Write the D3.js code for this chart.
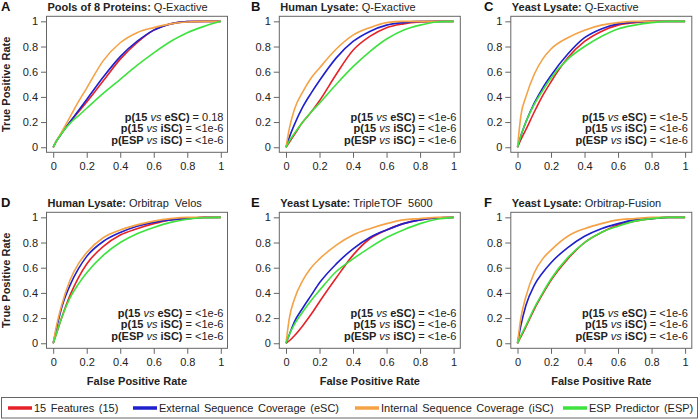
<!DOCTYPE html>
<html>
<head>
<meta charset="utf-8">
<script src="https://cdn.jsdelivr.net/npm/d3@7"></script>
<style>
body { margin: 0; background: #fff; }
svg { font-family: "Liberation Sans", Arial, sans-serif; }
</style>
</head>
<body>
<svg id="chart" width="700" height="420"></svg>
<script>
// false positive rate grid shared by all curves
const fpr = [0, 0.02, 0.05, 0.1, 0.15, 0.2, 0.3, 0.4, 0.5, 0.6, 0.7, 0.8, 0.9, 1];

const letters = ["A", "B", "C", "D", "E", "F"];
const samples = ["Pools of 8 Proteins:", "Human Lysate:", "Yeast Lysate:", "Human Lysate:", "Yeast Lysate:", "Yeast Lysate:"];
const instruments = ["Q-Exactive", "Q-Exactive", "Q-Exactive", "Orbitrap  Velos", "TripleTOF  5600", "Orbitrap-Fusion"];

const p15vsESC = ["0.18", "<1e-6", "<1e-5", "<1e-6", "<1e-6", "<1e-6"];
const p15vsISC = ["<1e-6", "<1e-6", "<1e-6", "<1e-6", "<1e-6", "<1e-6"];
const pESPvsISC = ["<1e-6", "<1e-6", "<1e-6", "<1e-6", "<1e-6", "<1e-6"];

const seriesNames = ["15 Features (15)", "External Sequence Coverage (eSC)", "Internal Sequence Coverage (iSC)", "ESP Predictor (ESP)"];
const seriesColors = ["#e52228", "#1f1fcc", "#f4a245", "#3ee23e"];

const ticks = [0, 0.2, 0.4, 0.6, 0.8, 1];

// true positive rates, one row per panel A-F
const tpr15 = [
  [0, 0.05, 0.11, 0.2, 0.28, 0.36, 0.53, 0.7, 0.83, 0.93, 0.98, 0.998, 1, 1],
  [0, 0.04, 0.1, 0.2, 0.28, 0.37, 0.58, 0.77, 0.88, 0.95, 0.98, 0.995, 1, 1],
  [0, 0.06, 0.14, 0.28, 0.41, 0.52, 0.71, 0.84, 0.92, 0.97, 0.99, 1, 1, 1],
  [0, 0.08, 0.2, 0.38, 0.52, 0.63, 0.77, 0.86, 0.91, 0.95, 0.98, 0.99, 1, 1],
  [0, 0.02, 0.06, 0.14, 0.23, 0.33, 0.52, 0.7, 0.83, 0.9, 0.95, 0.98, 0.995, 1],
  [0, 0.05, 0.13, 0.27, 0.39, 0.5, 0.67, 0.8, 0.88, 0.94, 0.97, 0.99, 1, 1]
];
const tprESC = [
  [0, 0.05, 0.11, 0.2, 0.29, 0.38, 0.56, 0.72, 0.84, 0.93, 0.98, 0.998, 1, 1],
  [0, 0.08, 0.18, 0.32, 0.43, 0.53, 0.71, 0.84, 0.92, 0.97, 0.99, 1, 1, 1],
  [0, 0.09, 0.2, 0.35, 0.47, 0.57, 0.74, 0.87, 0.94, 0.98, 0.995, 1, 1, 1],
  [0, 0.12, 0.28, 0.46, 0.59, 0.69, 0.81, 0.88, 0.93, 0.96, 0.98, 0.99, 1, 1],
  [0, 0.07, 0.17, 0.28, 0.38, 0.48, 0.63, 0.75, 0.84, 0.9, 0.95, 0.98, 0.995, 1],
  [0, 0.14, 0.3, 0.46, 0.56, 0.64, 0.76, 0.85, 0.91, 0.95, 0.98, 0.99, 1, 1]
];
const tprISC = [
  [0, 0.05, 0.12, 0.24, 0.36, 0.47, 0.69, 0.83, 0.91, 0.95, 0.98, 0.995, 1, 1],
  [0, 0.15, 0.3, 0.44, 0.55, 0.63, 0.78, 0.89, 0.95, 0.99, 1, 1, 1, 1],
  [0, 0.25, 0.4, 0.58, 0.7, 0.78, 0.87, 0.93, 0.97, 0.99, 1, 1, 1, 1],
  [0, 0.14, 0.3, 0.5, 0.63, 0.72, 0.84, 0.9, 0.94, 0.97, 0.99, 1, 1, 1],
  [0, 0.2, 0.35, 0.5, 0.6, 0.67, 0.78, 0.86, 0.91, 0.95, 0.98, 0.99, 1, 1],
  [0, 0.2, 0.37, 0.56, 0.67, 0.74, 0.85, 0.91, 0.95, 0.98, 0.99, 1, 1, 1]
];
const tprESP = [
  [0, 0.05, 0.11, 0.19, 0.25, 0.31, 0.43, 0.54, 0.65, 0.75, 0.84, 0.91, 0.96, 1],
  [0, 0.05, 0.11, 0.2, 0.28, 0.35, 0.5, 0.64, 0.76, 0.86, 0.93, 0.97, 0.995, 1],
  [0, 0.09, 0.2, 0.34, 0.45, 0.55, 0.7, 0.8, 0.88, 0.94, 0.97, 0.99, 1, 1],
  [0, 0.08, 0.2, 0.36, 0.47, 0.56, 0.7, 0.8, 0.87, 0.92, 0.96, 0.985, 0.997, 1],
  [0, 0.07, 0.15, 0.25, 0.34, 0.42, 0.57, 0.67, 0.76, 0.84, 0.9, 0.95, 0.985, 1],
  [0, 0.06, 0.14, 0.28, 0.4, 0.51, 0.68, 0.8, 0.88, 0.93, 0.97, 0.99, 1, 1]
];
const allSeries = [tpr15, tprESC, tprISC, tprESP];

const svg = d3.select("#chart");

// layout
const boxW = 181, boxH = 136;
const colX = [46.5, 279.3, 510.8];
const rowY = [16.3, 212.3];
const ink = "#222", axisGray = "#666";

const line = d3.line().curve(d3.curveMonotoneX);

letters.forEach((letter, i) => {
  const col = i % 3, row = Math.floor(i / 3);
  const bx = colX[col], by = rowY[row];
  const x = d3.scaleLinear().domain([-0.04, 1.04]).range([bx, bx + boxW]);
  const y = d3.scaleLinear().domain([-0.04, 1.04]).range([by + boxH, by]);
  const g = svg.append("g");

  // curves
  allSeries.forEach((s, k) => {
    g.append("path")
      .attr("d", line.x((d, j) => x(fpr[j])).y(d => y(d))(s[i]))
      .attr("fill", "none")
      .attr("stroke", seriesColors[k])
      .attr("stroke-width", 1.6);
  });

  // frame
  g.append("rect")
    .attr("x", bx).attr("y", by)
    .attr("width", boxW).attr("height", boxH)
    .attr("fill", "none").attr("stroke", axisGray);

  const fmt = d3.format("~g");
  const ax = g.append("g").attr("transform", `translate(0,${by + boxH})`)
    .call(d3.axisBottom(x).tickValues(ticks).tickFormat(fmt).tickSize(5.5).tickPadding(4).tickSizeOuter(0));
  const ay = g.append("g").attr("transform", `translate(${bx},0)`)
    .call(d3.axisLeft(y).tickValues(ticks).tickFormat(fmt).tickSize(5.5).tickPadding(3).tickSizeOuter(0));
  [ax, ay].forEach(a => {
    a.select(".domain").remove();
    a.selectAll("line").attr("stroke", axisGray);
    a.selectAll("text").attr("fill", ink).style("font-size", "11px").style("font-family", "Liberation Sans, Arial, sans-serif");
  });

  // panel letter and title
  g.append("text")
    .attr("x", [1, 251, 484][col]).attr("y", by - 5)
    .attr("font-size", 13).attr("font-weight", "bold").attr("fill", "#111")
    .text(letter);
  const t = g.append("text")
    .attr("x", bx + 1).attr("y", by - 5)
    .attr("font-size", 11).attr("fill", ink)
    .style("white-space", "pre");
  t.append("tspan").attr("font-weight", "bold").text(samples[i]);
  t.append("tspan").text(" " + instruments[i]);

  // p-values
  const pRows = [["15", p15vsESC[i], "eSC"], ["15", p15vsISC[i], "iSC"], ["ESP", pESPvsISC[i], "iSC"]];
  pRows.forEach((r, k) => {
    const pt = g.append("text")
      .attr("x", bx + boxW - 4).attr("y", by + boxH - 31.5 + k * 11.6)
      .attr("text-anchor", "end").attr("font-size", 11).attr("fill", ink);
    pt.append("tspan").attr("font-weight", "bold").text("p(" + r[0] + " ");
    pt.append("tspan").attr("font-style", "italic").text("vs");
    pt.append("tspan").attr("font-weight", "bold").text(" " + r[2] + ")");
    pt.append("tspan").text(" = " + r[1]);
  });

  if (col === 0) {
    g.append("text")
      .attr("transform", `translate(10,${by + boxH / 2}) rotate(-90)`)
      .attr("text-anchor", "middle").attr("font-size", 11).attr("font-weight", "bold").attr("fill", ink)
      .text("True Positive Rate");
  }
  if (row === 1) {
    g.append("text")
      .attr("x", bx + boxW / 2).attr("y", by + boxH + 37)
      .attr("text-anchor", "middle").attr("font-size", 11).attr("font-weight", "bold").attr("fill", ink)
      .text("False Positive Rate");
  }
});

// legend
const legendX = [8, 133, 355, 563];
svg.append("rect")
  .attr("x", 1.5).attr("y", 397.5).attr("width", 696).attr("height", 20.5)
  .attr("fill", "none").attr("stroke", axisGray);
const leg = svg.append("g").selectAll("g").data(seriesNames).join("g")
  .attr("transform", (d, k) => `translate(${legendX[k]},408)`);
leg.append("line").attr("x1", 0).attr("x2", 24)
  .attr("stroke", (d, k) => seriesColors[k]).attr("stroke-width", 3.5);
leg.append("text").attr("x", 26).attr("y", 4)
  .attr("font-size", 11).attr("fill", ink).attr("word-spacing", 1.5)
  .text(d => d);
</script>
</body>
</html>
